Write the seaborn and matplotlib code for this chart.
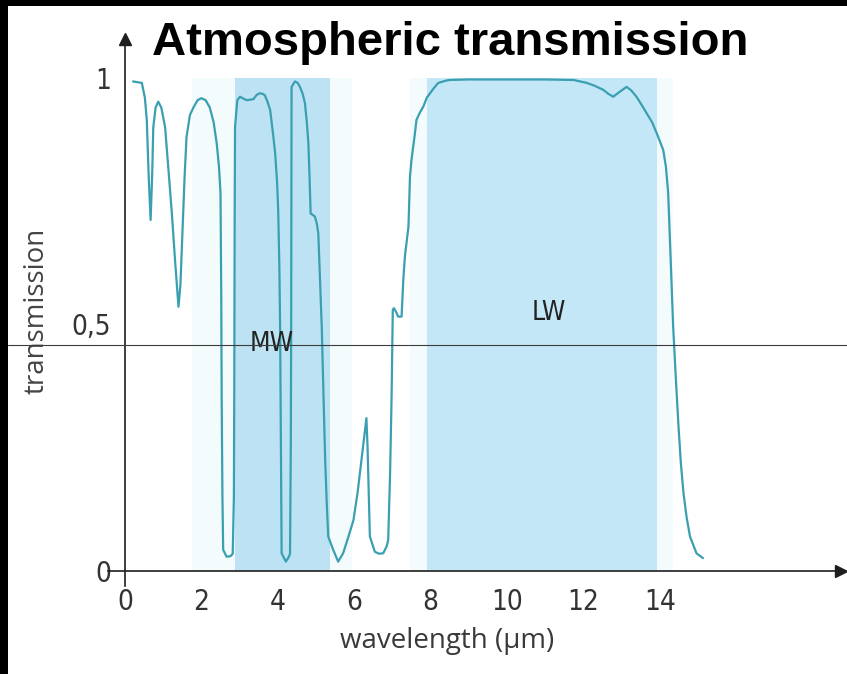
import matplotlib
matplotlib.use("Agg")
import matplotlib.pyplot as plt
import matplotlib.transforms as mtransforms
from matplotlib.patches import Rectangle
import seaborn as sns
import pandas as pd

# Transmission spectrum of the atmosphere (wavelength in µm, transmission 0..1)
wavelength = [
    0.21, 0.44, 0.52, 0.57, 0.62, 0.67, 0.71, 0.74, 0.80, 0.87, 0.95, 1.05,
    1.13, 1.22, 1.31, 1.40, 1.45, 1.51, 1.56, 1.61, 1.70, 1.79, 1.90, 2.00,
    2.11, 2.22, 2.32, 2.40, 2.46, 2.50, 2.52, 2.53, 2.55, 2.57, 2.66, 2.76,
    2.82, 2.85, 2.86, 2.87, 2.88, 2.94, 3.01, 3.10, 3.19, 3.28, 3.36, 3.45,
    3.53, 3.60, 3.66, 3.73, 3.80, 3.87, 3.93, 3.98, 4.01, 4.04, 4.06, 4.08,
    4.10, 4.21, 4.30, 4.32, 4.34, 4.35, 4.355, 4.36, 4.45, 4.52, 4.58, 4.65,
    4.71, 4.76, 4.80, 4.83, 4.86, 4.92, 4.97, 5.02, 5.06, 5.10, 5.15, 5.20,
    5.24, 5.28, 5.32, 5.45, 5.58, 5.71, 5.85, 5.98, 6.09, 6.19, 6.26, 6.32,
    6.35, 6.37, 6.41, 6.54, 6.65, 6.76, 6.85, 6.89, 6.94, 6.98, 7.01, 7.04,
    7.10, 7.15, 7.24, 7.29, 7.33, 7.37, 7.42, 7.46, 7.50, 7.59, 7.63, 7.72,
    7.81, 7.90, 8.07, 8.20, 8.42, 8.51, 9.00, 10.00, 11.00, 11.74, 12.09,
    12.30, 12.52, 12.65, 12.78, 12.95, 13.13, 13.25, 13.39, 13.52, 13.66,
    13.80, 13.92, 14.09, 14.16, 14.22, 14.28, 14.35, 14.42, 14.49, 14.55,
    14.62, 14.70, 14.79, 14.96, 15.13,
]
transmission = [
    0.993, 0.990, 0.960, 0.915, 0.800, 0.712, 0.800, 0.900, 0.940, 0.952, 0.940, 0.900,
    0.820, 0.732, 0.630, 0.536, 0.580, 0.698, 0.800, 0.880, 0.925, 0.940, 0.955, 0.959,
    0.955, 0.940, 0.910, 0.868, 0.820, 0.766, 0.550, 0.360, 0.150, 0.043, 0.029, 0.030,
    0.035, 0.150, 0.360, 0.700, 0.900, 0.955, 0.962, 0.958, 0.955, 0.956, 0.957, 0.966,
    0.969, 0.968, 0.965, 0.952, 0.935, 0.890, 0.848, 0.790, 0.732, 0.620, 0.496, 0.250,
    0.036, 0.019, 0.030, 0.036, 0.250, 0.496, 0.800, 0.982, 0.993, 0.990, 0.982, 0.968,
    0.949, 0.910, 0.868, 0.800, 0.725, 0.722, 0.719, 0.705, 0.685, 0.600, 0.496, 0.350,
    0.225, 0.140, 0.070, 0.043, 0.019, 0.036, 0.070, 0.103, 0.160, 0.225, 0.270, 0.310,
    0.250, 0.191, 0.070, 0.039, 0.035, 0.036, 0.050, 0.063, 0.200, 0.360, 0.530, 0.533,
    0.525, 0.516, 0.516, 0.597, 0.640, 0.665, 0.698, 0.800, 0.834, 0.888, 0.915, 0.930,
    0.942, 0.960, 0.978, 0.990, 0.995, 0.996, 0.997, 0.997, 0.997, 0.996, 0.990,
    0.984, 0.976, 0.968, 0.962, 0.972, 0.982, 0.975, 0.962, 0.946, 0.928,
    0.910, 0.888, 0.854, 0.820, 0.766, 0.640, 0.496, 0.390, 0.293, 0.220,
    0.158, 0.110, 0.070, 0.036, 0.026,
]

# Infrared windows
band_names = ["MW", "LW"]
band_start = [2.88, 7.90]
band_end = [5.37, 13.93]
band_label_x = [3.84, 11.10]
band_label_y = [0.46, 0.523]
halo_start = [1.75, 7.45]
halo_end = [5.95, 14.35]

x_ticks = [0, 2, 4, 6, 8, 10, 12, 14]
y_ticks = [0, 0.5, 1]
y_tick_labels = ["0", "0,5", "1"]

df = pd.DataFrame({"wavelength": wavelength, "transmission": transmission})

sns.set_style("white")
plt.rcParams["font.family"] = ["DejaVu Sans"]

W, H = 847, 674
fig = plt.figure(figsize=(W / 100, H / 100), dpi=100, facecolor="white")
ax = fig.add_axes([0.1273, 0.1309, 0.8659, 0.8119])
ax.set_facecolor("none")

narrow = ["DejaVu Sans"]
axis_dark = "#1e1e1e"

# window shading
for hs, he in zip(halo_start, halo_end):
    ax.fill_between([hs, he], 0, 1, color="#f3fbfd", lw=0, zorder=0)
for name, s, e, lx, ly, c in zip(band_names, band_start, band_end,
                                  band_label_x, band_label_y,
                                  ["#bde2f4", "#c3e7f6"]):
    ax.fill_between([s, e], 0, 1, color=c, lw=0, zorder=1)
    ax.text(lx, ly, name, ha="center", va="center", fontsize=19,
            family=narrow, stretch="condensed", weight="light",
            color="#222222", zorder=4)

sns.lineplot(data=df, x="wavelength", y="transmission", ax=ax,
             estimator=None, sort=False, color="#3a9fb1", lw=1.6, zorder=3)

ax.set_xlim(-0.45, 18.75)
ax.set_ylim(-0.03, 1.08)

# axes drawn through the origin with arrowheads
for side in ["top", "right"]:
    ax.spines[side].set_visible(False)
ax.spines["left"].set_position(("data", 0))
ax.spines["bottom"].set_position(("data", 0))
for side in ["left", "bottom"]:
    ax.spines[side].set_color(axis_dark)
    ax.spines[side].set_linewidth(1.2)
    ax.spines[side].set_zorder(5)
ax.plot(1, 0, ">", color=axis_dark, ms=8, transform=ax.get_yaxis_transform(),
        clip_on=False, zorder=6)
ax.plot(0, 1, "^", color=axis_dark, ms=8, transform=ax.get_xaxis_transform(),
        clip_on=False, zorder=6)

ax.set_xticks(x_ticks)
ax.set_xticklabels([str(v) for v in x_ticks])
ax.set_yticks(y_ticks)
ax.set_yticklabels(y_tick_labels)
ax.tick_params(axis="x", direction="out", length=9, width=1.2, color=axis_dark,
               pad=3, labelsize=20, labelcolor="#333333")
ax.tick_params(axis="y", direction="out", length=9, width=1.0, color=axis_dark,
               pad=1, labelsize=20, labelcolor="#333333")
for lab in ax.get_xticklabels() + ax.get_yticklabels():
    lab.set_family(narrow)
    lab.set_stretch("condensed")
    lab.set_weight("light")

ax.set_xlabel("wavelength (μm)", fontsize=20, family=["Open Sans", "DejaVu Sans"],
              color="#3a3a3a")
ax.xaxis.label.set_va("center")
ax.xaxis.set_label_coords(0.4625, -0.101)
ax.set_ylabel("transmission", fontsize=20, family=["Open Sans", "DejaVu Sans"],
              color="#444444")
ax.yaxis.label.set_va("center")
ax.yaxis.set_label_coords(-0.0965, 0.502)

fig.text(450 / W, 1 - 55 / H, "Atmospheric transmission", ha="center",
         va="baseline", fontsize=34, fontweight="bold",
         family=["Liberation Sans", "DejaVu Sans"], color="black")

# thin rule across the whole figure
rule = mtransforms.blended_transform_factory(fig.transFigure, ax.transData)
ax.plot([8 / W, 1], [0.458, 0.458], color="#3c3c3c", lw=0.8,
        transform=rule, clip_on=False, zorder=7)

# black frame strips on the top and left edges
fig.add_artist(Rectangle((0, 1 - 6 / H), 1, 6 / H, transform=fig.transFigure,
                         color="black", lw=0, zorder=10))
fig.add_artist(Rectangle((0, 0), 8 / W, 1, transform=fig.transFigure,
                         color="black", lw=0, zorder=10))

fig.savefig("out.png", dpi=100, facecolor="white")
